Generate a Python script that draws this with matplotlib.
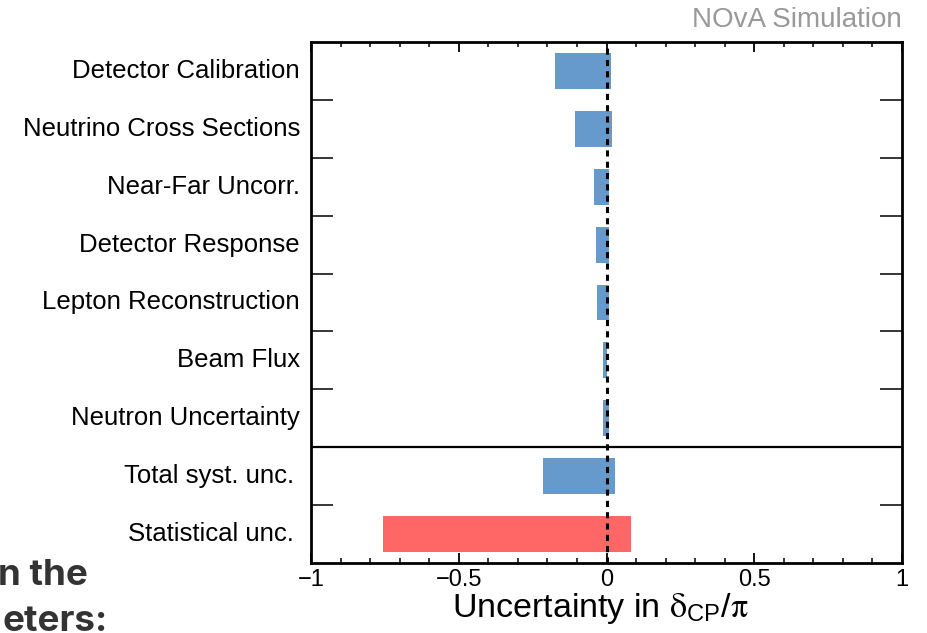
import numpy as np
import matplotlib
matplotlib.use("Agg")
import matplotlib.pyplot as plt
import matplotlib.transforms as mtransforms

plt.rcParams['font.family'] = ['Liberation Sans', 'DejaVu Sans']
# Sans text, upright serif greek (like ROOT's symbol font)
plt.rcParams['mathtext.fontset'] = 'custom'
plt.rcParams['mathtext.rm'] = 'Liberation Sans'
plt.rcParams['mathtext.it'] = 'STIXGeneral'

# Systematic sources, top to bottom
categories = ["Detector Calibration", "Neutrino Cross Sections", "Near-Far Uncorr.",
              "Detector Response", "Lepton Reconstruction", "Beam Flux",
              "Neutron Uncertainty", "Total syst. unc.", "Statistical unc."]
# Lower and upper shifts in delta_CP / pi
lower = [-0.173, -0.107, -0.043, -0.036, -0.033, -0.011, -0.012, -0.214, -0.757]
upper = [0.016, 0.020, 0.010, 0.009, 0.0095, 0.003, 0.009, 0.028, 0.083]
colors = ["#6699cc"] * 8 + ["#ff6666"]

xticks = [-1, -0.5, 0, 0.5, 1]
xticklabels = ["\u22121", "\u22120.5", "0", "0.5", "1"]

fig = plt.figure(figsize=(9.27, 6.33), dpi=100)
ax = fig.add_axes([311 / 927, 1 - 563 / 633, 591 / 927, 521 / 633])

# Bars
y = np.arange(len(categories))
lower = np.array(lower)
upper = np.array(upper)
ax.barh(y, upper - lower, left=lower, height=0.62, color=colors, zorder=2)

# Zero line and separator between sources and totals
ax.axvline(0, color="black", lw=2.2, ls=(0, (2, 1.7)), zorder=3)
ax.axhline(6.5, color="black", lw=1.6, zorder=3)

ax.set_xlim(-1, 1)
ax.set_ylim(len(categories) - 0.5, -0.5)

# x ticks, ROOT style
ax.set_xticks(xticks)
ax.set_xticklabels(xticklabels, fontsize=17)
ax.set_xticks(np.arange(-1, 1.01, 0.1), minor=True)
ax.tick_params(axis="x", which="major", direction="in", length=7.5, width=1.3,
               top=True, bottom=True, pad=4)
ax.tick_params(axis="x", which="minor", direction="in", length=3.8, width=1.1,
               top=True, bottom=True)

# y ticks at bin boundaries, labels drawn as text
ax.set_yticks(np.arange(0.5, len(categories) - 1, 1.0))
ax.set_yticklabels([])
ax.tick_params(axis="y", which="major", direction="in", length=16, width=1.1,
               left=True, right=True)
ax.tick_params(axis="y", which="minor", left=False, right=False)

for s in ax.spines.values():
    s.set_linewidth(2.0)

for i, name in enumerate(categories):
    off = -8 if i < 7 else -12.5
    tr = mtransforms.offset_copy(ax.get_yaxis_transform(), fig=fig, x=off, y=0, units="points")
    ax.text(0, i, name, transform=tr, ha="right", va="center", fontsize=18.5)

# x title
fig.text(452 / 927, 1 - 617 / 633, r"Uncertainty in $\delta_{\mathrm{CP}}/\pi$",
         ha="left", va="baseline", fontsize=24.5)

fig.text(902 / 927, 1 - 20 / 633, "NOvA Simulation", ha="right", va="center",
         fontsize=20, color="#999999")

# Cropped slide text in the lower left corner
fig.text(-2 / 927, 1 - 585 / 633, "n the", ha="left", va="baseline",
         fontsize=26.5, fontweight="bold", color="#333333", family="Inter")
fig.text(2 / 927, 1 - 631 / 633, "eters:", ha="left", va="baseline",
         fontsize=26.5, fontweight="bold", color="#333333", family="Inter")

fig.savefig("out.png", dpi=100)
